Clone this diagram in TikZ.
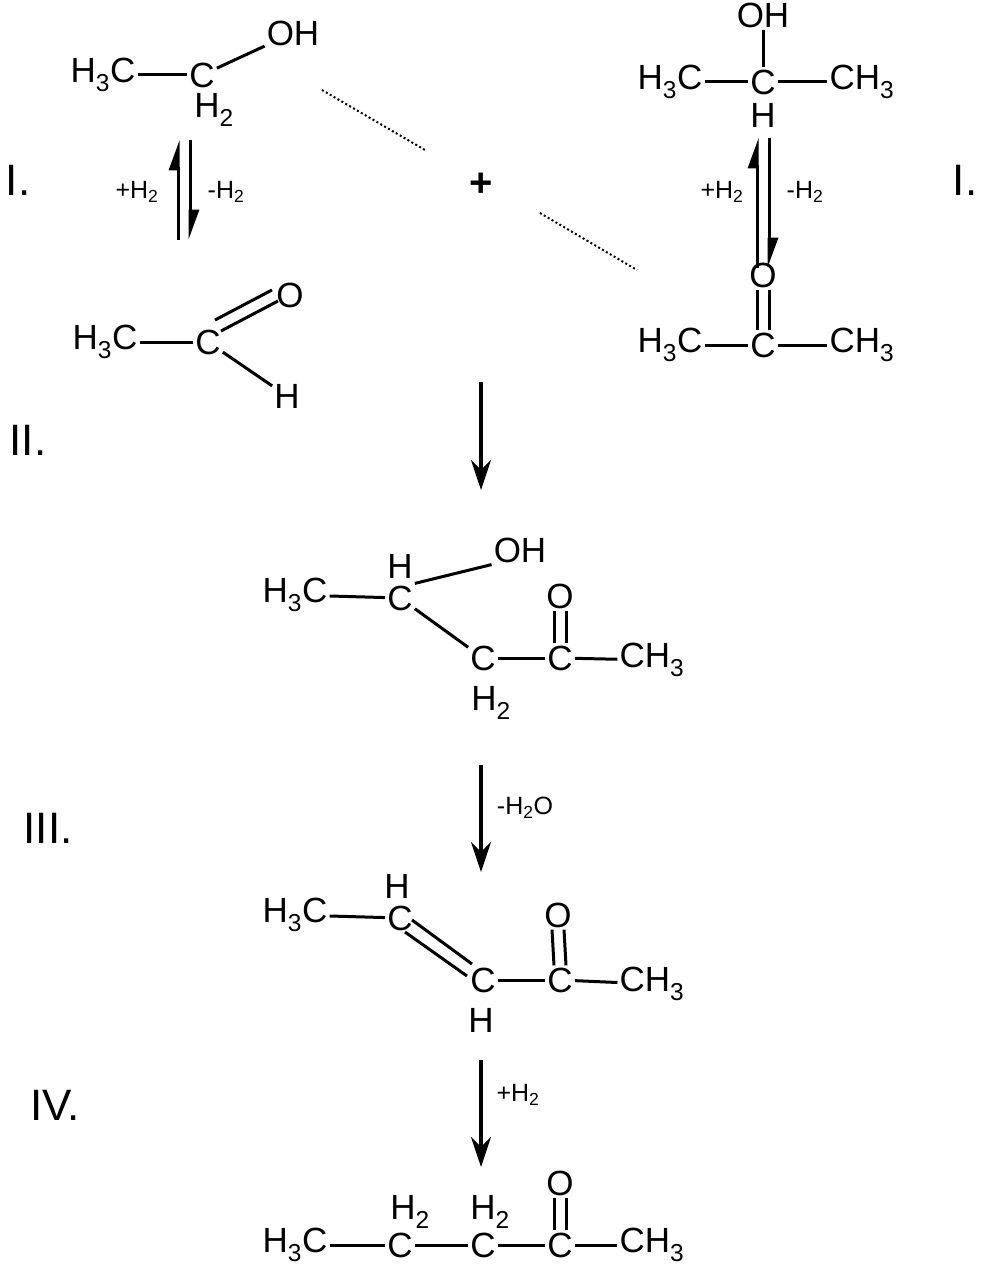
\documentclass[tikz,border=0pt]{standalone}
\usepackage{fontspec}
\setmainfont{Liberation Sans}
\usetikzlibrary{arrows.meta}
\newcommand{\sub}[1]{\textsubscript{#1}}
\begin{document}
\begin{tikzpicture}[x=1pt,y=-1pt,
  atm/.style={font=\fontsize{35}{36}\selectfont,inner sep=2pt},
  lab/.style={font=\fontsize{25}{26}\selectfont,inner sep=1pt},
  num/.style={font=\fontsize{44}{46}\selectfont,inner sep=0pt},
  bond/.style={line width=3pt},
  harp/.style={line width=3pt,-{Stealth[harpoon,length=26pt,width=18pt,inset=0pt]}},
  rx/.style={line width=3.2pt,-{Stealth[length=30pt,width=20pt]}},
  dot/.style={line width=2pt,dash pattern=on 2pt off 2.5pt}]
\useasboundingbox (0,0) rectangle (981,1268);
% ethanol
\node[atm] (e1) at (103,75) {H\sub{3}C};
\node[atm] (e2) at (202,75) {C};
\node[atm] (e2h) at (214,110) {H\sub{2}};
\node[atm] (e3) at (293,33) {OH};
\draw[bond] (e1) -- (e2); \draw[bond] (e2) -- (e3);
% equilibrium left
\coordinate (l1) at (178,240); \coordinate (l2) at (178,140);
\coordinate (l3) at (190,140); \coordinate (l4) at (190,240);
\draw[harp] (l1) -- (l2);
\draw[harp] (l3) -- (l4);
\node[lab] (p1) at (137,192) {+H\sub{2}};
\node[lab] (m1) at (226,192) {-H\sub{2}};
\node[num] (n1) at (18,180) {I.};
% plus and dotted
\coordinate (d1) at (322,90); \coordinate (d2) at (425,150);
\coordinate (d3) at (540,213); \coordinate (d4) at (637,270);
\draw[dot] (d1) -- (d2); \draw[dot] (d3) -- (d4);
\node[font=\fontsize{40}{40}\selectfont\bfseries] (plus) at (481,185) {+};
% 2-propanol
\node[atm] (p0) at (763,15) {OH};
\node[atm] (pa) at (670,82) {H\sub{3}C};
\node[atm] (pb) at (763,82) {C};
\node[atm] (pc) at (862,82) {CH\sub{3}};
\node[atm] (ph) at (763,115) {H};
\draw[bond] (pa) -- (pb); \draw[bond] (pb) -- (pc); \draw[bond] (pb) -- (p0);
% equilibrium right
\coordinate (r1) at (757,268); \coordinate (r2) at (757,138);
\coordinate (r3) at (769,138); \coordinate (r4) at (769,268);
\draw[harp] (r1) -- (r2);
\draw[harp] (r3) -- (r4);
\node[lab] (p2) at (722,192) {+H\sub{2}};
\node[lab] (m2) at (805,192) {-H\sub{2}};
\node[num] (n2) at (965,180) {I.};
% acetone
\node[atm] (ao) at (763,275) {O};
\node[atm] (aa) at (670,345) {H\sub{3}C};
\node[atm] (ab) at (763,345) {C};
\node[atm] (ac) at (862,345) {CH\sub{3}};
\draw[bond] (aa) -- (ab); \draw[bond] (ab) -- (ac);
\draw[bond] ([xshift=-6pt]ab.north) -- ([xshift=-6pt]ao.south);
\draw[bond] ([xshift=6pt]ab.north) -- ([xshift=6pt]ao.south);
% acetaldehyde
\node[atm] (ca) at (105,342) {H\sub{3}C};
\node[atm] (cb) at (208,342) {C};
\node[atm] (co) at (290,295) {O};
\node[atm] (ch) at (287,396) {H};
\draw[bond] (ca) -- (cb); \draw[bond] (cb) -- (ch);
\draw[bond] (215,320) -- (272,290);
\draw[bond] (221,331) -- (278,301);
\node[num] (n3) at (28,440) {II.};
\coordinate (s1) at (481,382); \coordinate (s2) at (481,490);
\draw[rx] (s1) -- (s2);
% aldol
\node[atm] (ba) at (295,595) {H\sub{3}C};
\node[atm] (bb) at (400,598) {C};
\node[atm] (bbh) at (400,566) {H};
\node[atm] (boh) at (520,550) {OH};
\node[atm] (bc) at (483,658) {C};
\node[atm] (bch) at (491,703) {H\sub{2}};
\node[atm] (bd) at (560,658) {C};
\node[atm] (bo) at (560,596) {O};
\node[atm] (be) at (652,660) {CH\sub{3}};
\draw[bond] (ba) -- (bb); \draw[bond] (bb) -- (bc); \draw[bond] (bc) -- (bd); \draw[bond] (bd) -- (be);
\draw[bond] (bb.north east) -- (boh.south west);
\draw[bond] ([xshift=-6pt]bd.north) -- ([xshift=-6pt]bo.south);
\draw[bond] ([xshift=6pt]bd.north) -- ([xshift=6pt]bo.south);
\node[num] (n4) at (48,828) {III.};
\coordinate (s3) at (481,765); \coordinate (s4) at (481,872);
\draw[rx] (s3) -- (s4);
\node[lab] (w) at (525,808) {-H\sub{2}O};
% enone
\node[atm] (ka) at (295,915) {H\sub{3}C};
\node[atm] (kb) at (400,918) {C};
\node[atm] (kbh) at (397,886) {H};
\node[atm] (kc) at (483,980) {C};
\node[atm] (kch) at (481,1020) {H};
\node[atm] (kd) at (560,980) {C};
\node[atm] (ko) at (558,915) {O};
\node[atm] (ke) at (652,984) {CH\sub{3}};
\draw[bond] (ka) -- (kb); \draw[bond] (kc) -- (kd); \draw[bond] (kd) -- (ke);
\draw[bond] (412,920) -- (472,964);
\draw[bond] (405,932) -- (467,976);
\draw[bond] ([xshift=-6pt]kd.north) -- ([xshift=-6pt]ko.south);
\draw[bond] ([xshift=6pt]kd.north) -- ([xshift=6pt]ko.south);
\node[num] (n5) at (55,1105) {IV.};
\coordinate (s5) at (481,1060); \coordinate (s6) at (481,1167);
\draw[rx] (s5) -- (s6);
\node[lab] (h2) at (518,1095) {+H\sub{2}};
% ketone
\node[atm] (ta) at (295,1245) {H\sub{3}C};
\node[atm] (tb) at (400,1245) {C};
\node[atm] (tbh) at (410,1212) {H\sub{2}};
\node[atm] (tc) at (483,1245) {C};
\node[atm] (tch) at (490,1212) {H\sub{2}};
\node[atm] (td) at (560,1245) {C};
\node[atm] (to) at (560,1183) {O};
\node[atm] (te) at (652,1245) {CH\sub{3}};
\draw[bond] (ta) -- (tb); \draw[bond] (tb) -- (tc); \draw[bond] (tc) -- (td); \draw[bond] (td) -- (te);
\draw[bond] ([xshift=-6pt]td.north) -- ([xshift=-6pt]to.south);
\draw[bond] ([xshift=6pt]td.north) -- ([xshift=6pt]to.south);
\end{tikzpicture}
\end{document}
